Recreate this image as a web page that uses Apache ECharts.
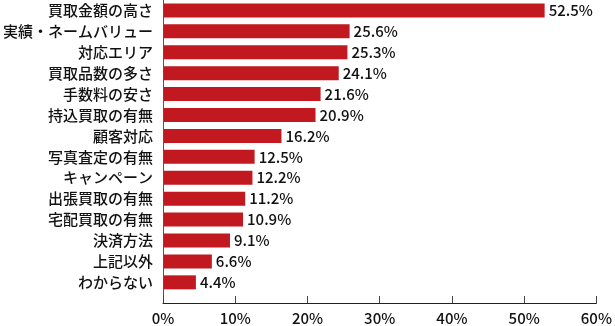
<!DOCTYPE html>
<html>
<head>
<meta charset="utf-8">
<script src="https://cdn.jsdelivr.net/npm/echarts@6/dist/echarts.min.js"></script>
<style>
  html, body { margin: 0; padding: 0; background: #fff; }
  #chart { width: 615px; height: 326px; }
</style>
</head>
<body>
<div id="chart"></div>
<script>
// Reasons given for choosing a buyback shop (%)
const categories = [
  '買取金額の高さ', '実績・ネームバリュー', '対応エリア', '買取品数の多さ',
  '手数料の安さ', '持込買取の有無', '顧客対応', '写真査定の有無',
  'キャンペーン', '出張買取の有無', '宅配買取の有無', '決済方法',
  '上記以外', 'わからない'
];
const values = [52.5, 25.6, 25.3, 24.1, 21.6, 20.9, 16.2, 12.5, 12.2, 11.2, 10.9, 9.1, 6.6, 4.4];
const xTicks = { min: 0, max: 60, step: 10 };

const FONT = '"Noto Sans CJK JP", "Noto Sans", sans-serif';
const textStyle = { color: '#111', fontFamily: FONT, fontSize: 15, fontWeight: 500 };
const chart = echarts.init(document.getElementById('chart'));

// Two grids share the same horizontal extent: the upper one holds the bars,
// the taller one carries the percentage axis a little below the last bar.
const LEFT = 163, RIGHT = 16;

chart.setOption({
  animation: false,
  grid: [
    { left: LEFT, right: RIGHT, top: 0, bottom: 33.2 },
    { left: LEFT, right: RIGHT, top: 0, bottom: 21 }
  ],
  xAxis: [
    {
      gridIndex: 0, type: 'value',
      min: xTicks.min, max: xTicks.max, interval: xTicks.step,
      show: false
    },
    {
      gridIndex: 1, type: 'value',
      min: xTicks.min, max: xTicks.max, interval: xTicks.step,
      axisLine: { show: true, lineStyle: { color: '#222', width: 1 } },
      axisTick: { show: true, inside: true, length: 7, lineStyle: { color: '#444' } },
      splitLine: { show: false },
      axisLabel: Object.assign({ formatter: '{value}%', margin: 8 }, textStyle)
    }
  ],
  yAxis: [
    {
      gridIndex: 0, type: 'category',
      data: categories, inverse: true,
      axisLine: { show: false },
      axisTick: { show: false },
      axisLabel: Object.assign({ margin: 11 }, textStyle)
    },
    {
      gridIndex: 1, type: 'value',
      min: 0, max: 1,
      axisLine: { show: true, lineStyle: { color: '#555', width: 1 } },
      axisTick: { show: false },
      axisLabel: { show: false },
      splitLine: { show: false }
    }
  ],
  series: [{
    type: 'bar',
    xAxisIndex: 0, yAxisIndex: 0,
    data: values,
    barWidth: 14,
    itemStyle: { color: '#c1191f' },
    label: Object.assign({
      show: true,
      position: 'right',
      distance: 4,
      formatter: p => p.value.toFixed(1) + '%'
    }, textStyle)
  }]
});
</script>
</body>
</html>
